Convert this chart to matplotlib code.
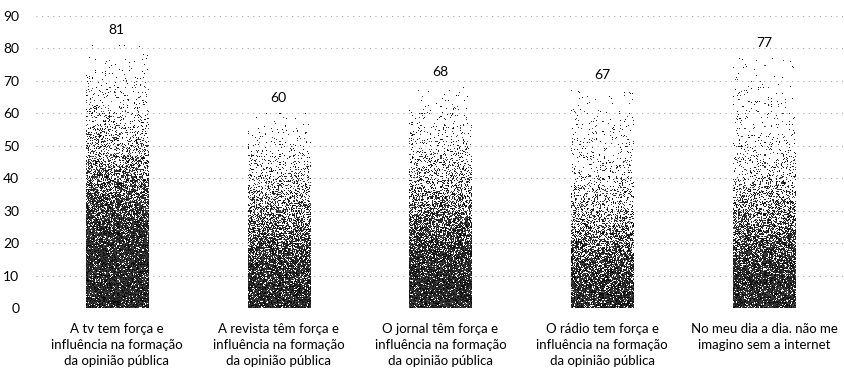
import numpy as np
import matplotlib
matplotlib.use("Agg")
import matplotlib.pyplot as plt

plt.rcParams['font.family'] = ['Lato', 'DejaVu Sans']

categories = [
    "A tv tem força e\ninfluência na formação\nda opinião pública",
    "A revista têm força e\ninfluência na formação\nda opinião pública",
    "O jornal têm força e\ninfluência na formação\nda opinião pública",
    "O rádio tem força e\ninfluência na formação\nda opinião pública",
    "No meu dia a dia. não me\nimagino sem a internet",
]
values = [81, 60, 68, 67, 77]
yticks = [0, 10, 20, 30, 40, 50, 60, 70, 80, 90]

# height (in data units) where each bar's stipple shading fades out
fade_mid = [42, 28, 32, 23, 28]

fig = plt.figure(figsize=(8.45, 3.78), dpi=100)
ax = fig.add_axes([0.0426, 0.185, 0.9574, 0.773])

rng = np.random.default_rng(7)
width = 0.385
px_per_unit = 3.24
px_w = 62

for i, (v, mid) in enumerate(zip(values, fade_mid)):
    h_px = int(round(v * px_per_unit))
    y = (np.arange(h_px)[::-1] + 0.5) / px_per_unit
    dens = 0.03 + 0.9 / (1 + np.exp((y - mid) / 8.0))
    # thin out the very top of each bar
    dens *= np.clip((v - y) / 12.0, 0.35, 1.0)
    dens = dens[:, None] * np.ones((1, px_w))
    r = rng.random((h_px, px_w))
    shade = rng.uniform(0.0, 0.3, (h_px, px_w))
    img = np.where(r < dens, shade, 1.0)
    rgba = np.zeros((h_px, px_w, 4))
    rgba[..., :3] = img[..., None]
    rgba[..., 3] = np.where(img < 1.0, 1.0, 0.0)
    ax.imshow(rgba, extent=(i - width / 2, i + width / 2, 0, v),
              aspect='auto', interpolation='nearest', zorder=2)
    ax.annotate(str(v), xy=(i, v), xytext=(0, 8), textcoords='offset points',
                ha='center', va='baseline', fontsize=10, color='black')

ax.set_xlim(-0.5, len(values) - 0.5)
ax.set_ylim(0, 90)
ax.set_yticks(yticks)
ax.set_xticks(range(len(categories)))
ax.set_xticklabels(categories, fontsize=9.5, linespacing=1.4, color='black')
ax.tick_params(axis='x', length=0, pad=11)
ax.tick_params(axis='y', length=0, pad=12, labelsize=10, labelcolor='black')
for s in ax.spines.values():
    s.set_visible(False)
ax.yaxis.grid(True, linestyle=(0, (1, 4)), color='#aaaaaa', linewidth=0.8)
ax.set_axisbelow(True)

fig.savefig("out.png", dpi=100)
